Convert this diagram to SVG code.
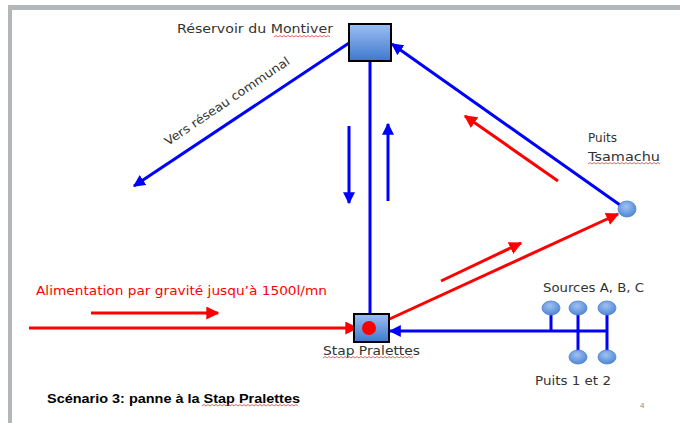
<svg xmlns="http://www.w3.org/2000/svg" width="680" height="423" viewBox="0 0 680 423">
<defs>
<linearGradient id="boxg" x1="0" y1="0" x2="0" y2="1">
<stop offset="0" stop-color="#9dbff5"/>
<stop offset="1" stop-color="#3f78cc"/>
</linearGradient>
<radialGradient id="dotg" cx="0.45" cy="0.35" r="0.7">
<stop offset="0" stop-color="#9fc2f2"/>
<stop offset="1" stop-color="#4a82d2"/>
</radialGradient>
<marker id="ab" viewBox="0 0 10 10" refX="9" refY="5" markerWidth="12" markerHeight="12" markerUnits="userSpaceOnUse" orient="auto">
<path d="M0,0 L10,5 L0,10 Z" fill="#0000ff"/>
</marker>
<marker id="ar" viewBox="0 0 10 10" refX="9" refY="5" markerWidth="13" markerHeight="13" markerUnits="userSpaceOnUse" orient="auto">
<path d="M0,0 L10,5 L0,10 Z" fill="#ff0000"/>
</marker>
</defs>
<style>
.b{stroke:#0000ff;stroke-width:3;fill:none}
.r{stroke:#ff0000;stroke-width:3;fill:none}
.t{font-family:"DejaVu Sans","Liberation Sans",sans-serif;font-size:12px;fill:#333}
.box{fill:url(#boxg);stroke:#000;stroke-width:2}
.dot{fill:url(#dotg);stroke:#4a7fcf;stroke-width:0.8}
.sq{stroke:#e04040;stroke-width:0.8;fill:none}
</style>
<rect width="680" height="423" fill="#fff"/>
<rect x="8" y="5" width="672" height="5" fill="#b4b7ba"/>
<rect x="8" y="5" width="4" height="418" fill="#b4b7ba"/>

<g id="connectors">
<line class="b" x1="349" y1="43" x2="134" y2="186" marker-end="url(#ab)"/>
<line class="b" x1="370" y1="61" x2="370" y2="315"/>
<line class="b" x1="349" y1="126" x2="349" y2="203" marker-end="url(#ab)"/>
<line class="b" x1="388" y1="201" x2="388" y2="124" marker-end="url(#ab)"/>
<line class="b" x1="620" y1="205" x2="392" y2="44" marker-end="url(#ab)"/>
<line class="r" x1="558" y1="181" x2="465" y2="116" marker-end="url(#ar)"/>
<line class="r" x1="370" y1="328" x2="618" y2="214" marker-end="url(#ar)"/>
<line class="r" x1="441" y1="281" x2="521" y2="243" marker-end="url(#ar)"/>
<line class="r" x1="29" y1="328" x2="357" y2="328" marker-end="url(#ar)"/>
<line class="r" x1="91" y1="313" x2="218" y2="313" marker-end="url(#ar)"/>
<line class="b" x1="608" y1="331" x2="390" y2="331" marker-end="url(#ab)"/>
<line class="b" x1="551" y1="308" x2="551" y2="331"/>
<line class="b" x1="578" y1="308" x2="578" y2="357"/>
<line class="b" x1="607" y1="308" x2="607" y2="357"/>
</g>

<g id="reservoir">
<rect class="box" x="349" y="24" width="42" height="37"/>
<text class="t" x="177" y="33" textLength="156" lengthAdjust="spacingAndGlyphs">Réservoir du Montiver</text>
<path class="sq" d="M274,37 l2,-1.5 l2,1.5 l2,-1.5 l2,1.5 l2,-1.5 l2,1.5 l2,-1.5 l2,1.5 l2,-1.5 l2,1.5 l2,-1.5 l2,1.5 l2,-1.5 l2,1.5 l2,-1.5 l2,1.5 l2,-1.5 l2,1.5 l2,-1.5 l2,1.5 l2,-1.5 l2,1.5 l2,-1.5 l2,1.5 l2,-1.5 l2,1.5 l2,-1.5 l2,1.5"/>
</g>

<g id="vers-reseau">
<text class="t" transform="translate(168,146) rotate(-34)" textLength="148" lengthAdjust="spacingAndGlyphs" fill="#222">Vers réseau communal</text>
</g>

<g id="puits-tsamachu">
<ellipse class="dot" cx="627" cy="209" rx="9" ry="8"/>
<text class="t" x="588" y="142">Puits</text>
<text class="t" x="588" y="161" textLength="72" lengthAdjust="spacingAndGlyphs">Tsamachu</text>
<path class="sq" d="M588,164 l2,-1.5 l2,1.5 l2,-1.5 l2,1.5 l2,-1.5 l2,1.5 l2,-1.5 l2,1.5 l2,-1.5 l2,1.5 l2,-1.5 l2,1.5 l2,-1.5 l2,1.5 l2,-1.5 l2,1.5 l2,-1.5 l2,1.5 l2,-1.5 l2,1.5 l2,-1.5 l2,1.5 l2,-1.5 l2,1.5 l2,-1.5 l2,1.5 l2,-1.5 l2,1.5 l2,-1.5 l2,1.5 l2,-1.5 l2,1.5 l2,-1.5 l2,1.5 l2,-1.5 l2,1.5"/>
</g>

<g id="alimentation">
<text x="36" y="295" font-family="DejaVu Sans, Liberation Sans, sans-serif" font-size="13" fill="#ff0000" textLength="291" lengthAdjust="spacingAndGlyphs">Alimentation par gravité jusqu’à 1500l/mn</text>
</g>

<g id="stap">
<rect class="box" x="354" y="314" width="35" height="28"/>
<circle cx="369" cy="328" r="7" fill="#ff0000"/>
<text class="t" x="323" y="355" textLength="97" lengthAdjust="spacingAndGlyphs">Stap Pralettes</text>
<path class="sq" d="M323,358 l2,-1.5 l2,1.5 l2,-1.5 l2,1.5 l2,-1.5 l2,1.5 l2,-1.5 l2,1.5 l2,-1.5 l2,1.5 l2,-1.5 l2,1.5 l2,-1.5 l2,1.5 l2,-1.5 l2,1.5 l2,-1.5 l2,1.5 l2,-1.5 l2,1.5 l2,-1.5 l2,1.5 l2,-1.5 l2,1.5 l2,-1.5 l2,1.5 l2,-1.5 l2,1.5 l2,-1.5 l2,1.5 l2,-1.5 l2,1.5 l2,-1.5 l2,1.5 l2,-1.5 l2,1.5 l2,-1.5 l2,1.5 l2,-1.5 l2,1.5 l2,-1.5 l2,1.5 l2,-1.5 l2,1.5 l2,-1.5"/>
</g>

<g id="sources">
<ellipse class="dot" cx="551" cy="308" rx="9" ry="7"/>
<ellipse class="dot" cx="578" cy="308" rx="9" ry="7"/>
<ellipse class="dot" cx="607" cy="308" rx="9" ry="7"/>
<text class="t" x="543" y="292" textLength="101" lengthAdjust="spacingAndGlyphs">Sources A, B, C</text>
</g>

<g id="puits-1-2">
<ellipse class="dot" cx="578" cy="357" rx="9" ry="7"/>
<ellipse class="dot" cx="607" cy="357" rx="9" ry="7"/>
<text class="t" x="535" y="385" textLength="76" lengthAdjust="spacingAndGlyphs">Puits 1 et 2</text>
</g>

<g id="caption">
<text x="47" y="403" font-family="Liberation Sans, sans-serif" font-size="12.5" font-weight="bold" fill="#000" textLength="253" lengthAdjust="spacingAndGlyphs">Scénario 3: panne à la Stap Pralettes</text>
<path class="sq" d="M202,406 l2,-1.5 l2,1.5 l2,-1.5 l2,1.5 l2,-1.5 l2,1.5 l2,-1.5 l2,1.5 l2,-1.5 l2,1.5 l2,-1.5 l2,1.5 l2,-1.5 l2,1.5 l2,-1.5 l2,1.5 l2,-1.5 l2,1.5 l2,-1.5 l2,1.5 l2,-1.5 l2,1.5 l2,-1.5 l2,1.5 l2,-1.5 l2,1.5 l2,-1.5 l2,1.5 l2,-1.5 l2,1.5 l2,-1.5 l2,1.5 l2,-1.5 l2,1.5 l2,-1.5 l2,1.5 l2,-1.5 l2,1.5 l2,-1.5 l2,1.5 l2,-1.5 l2,1.5 l2,-1.5 l2,1.5 l2,-1.5 l2,1.5 l2,-1.5 l2,1.5"/>
<text x="640" y="408" font-family="Liberation Sans, sans-serif" font-size="8" fill="#888">4</text>
</g>
</svg>
